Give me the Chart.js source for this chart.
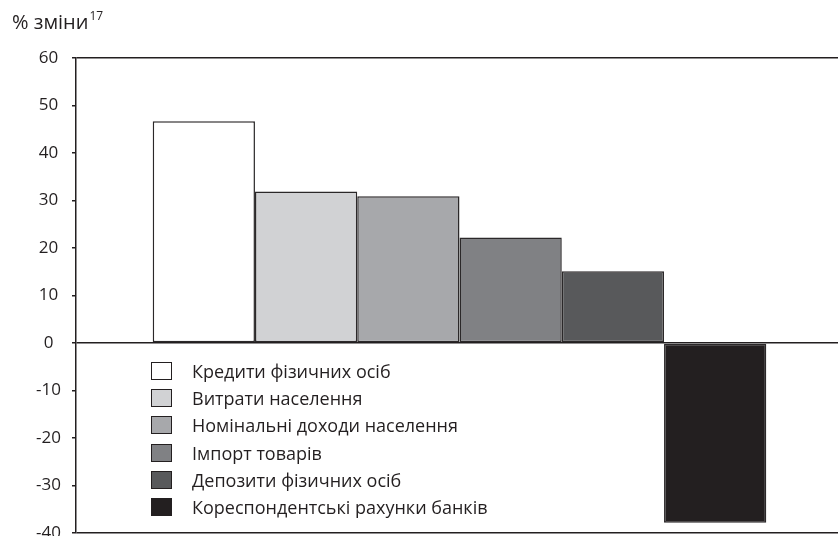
<!DOCTYPE html>
<html>
<head>
<meta charset="utf-8">
<script src="https://cdn.jsdelivr.net/npm/chart.js@4/dist/chart.umd.min.js"></script>
<style>
    body { margin: 0; background: #fff; }
    #wrap { position: relative; width: 838px; height: 536px; overflow: hidden; font-family: 'Open Sans', sans-serif; color: #231f20; }
    #title { position: absolute; left: 12px; top: 7px; font-size: 20px; }
    #title sup { font-size: 12px; vertical-align: 9px; margin-left: 1px; }
    #legend { position: absolute; left: 151px; top: 357px; font-size: 18px; }
    .row { height: 27.3px; display: flex; align-items: center; }
    .box { width: 21px; height: 18px; border: 1px solid #231f20; box-sizing: border-box; margin-right: 20px; }
</style>
</head>
<body>
<div id="wrap">
    <canvas id="barChart" width="843" height="554"></canvas>
    <div id="title">% зміни<sup>17</sup></div>
    <div id="legend"></div>
</div>
<script>
const categories = [''];
const seriesNames = [
    'Кредити фізичних осіб',
    'Витрати населення',
    'Номінальні доходи населення',
    'Імпорт товарів',
    'Депозити фізичних осіб',
    'Кореспондентські рахунки банків'
];
const seriesValues = [46.7, 31.9, 30.9, 22.2, 15.1, -37.9];
const seriesColors = ['#ffffff', '#d1d2d4', '#a7a8ab', '#808184', '#58595b', '#231f20'];
const yTicks = [60, 50, 40, 30, 20, 10, 0, -10, -20, -30, -40];

let ctx = document.getElementById('barChart');
if (ctx) {
    ctx = ctx.getContext('2d');

    const datasets = seriesNames.map((name, i) => ({
        label: name,
        data: [seriesValues[i]],
        backgroundColor: seriesColors[i],
        borderColor: '#2b2829',
        borderWidth: 1.5,
        borderSkipped: false,
        categoryPercentage: 0.8,
        barPercentage: 1
    }));

    const chart = new Chart(ctx, {
        type: 'bar',
        data: {
            labels: categories,
            datasets: datasets
        },
        options: {
            responsive: false,
            animation: false,
            layout: {
                padding: { top: 58, bottom: 0, left: 0, right: 0 }
            },
            scales: {
                x: {
                    display: false
                },
                y: {
                    min: -40,
                    max: 60,
                    afterFit: (scale) => { scale.width = 76; },
                    afterBuildTicks: (scale) => {
                        scale.ticks = yTicks.map(v => ({ value: v }));
                    },
                    border: {
                        display: true,
                        color: '#231f20',
                        width: 1.5
                    },
                    grid: {
                        color: (c) => [60, 0, -40].includes(c.tick.value) ? '#231f20' : 'rgba(0,0,0,0)',
                        lineWidth: 1.5,
                        tickColor: '#231f20',
                        tickLength: 4,
                        drawTicks: true
                    },
                    ticks: {
                        crossAlign: 'center',
                        padding: 11,
                        color: '#231f20',
                        font: {
                            family: 'Open Sans',
                            size: 17
                        }
                    }
                }
            },
            plugins: {
                legend: { display: false },
                tooltip: { enabled: false }
            }
        }
    });

    // легенда всередині графіка
    const legendEl = document.getElementById('legend');
    chart.data.datasets.forEach(ds => {
        const row = document.createElement('div');
        row.className = 'row';
        row.innerHTML = '<span class="box" style="background:' + ds.backgroundColor + '"></span><span>' + ds.label + '</span>';
        legendEl.appendChild(row);
    });
}
</script>
</body>
</html>
